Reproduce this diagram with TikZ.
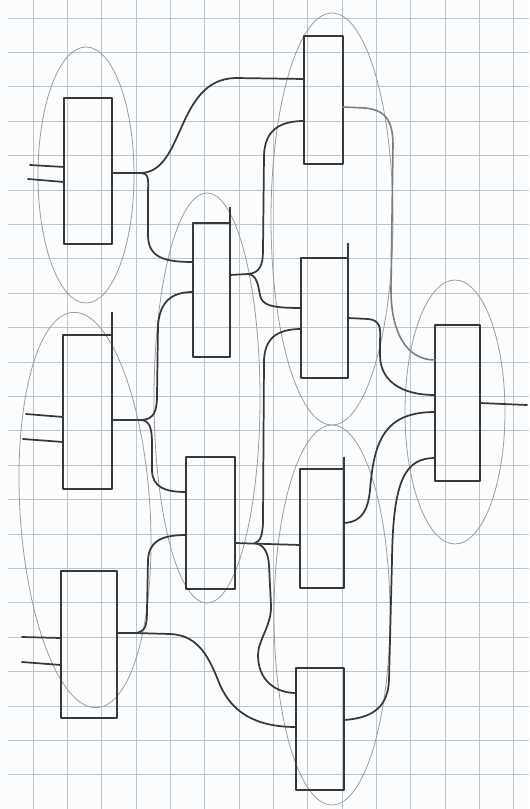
\documentclass[tikz,border=0pt]{standalone}
\usetikzlibrary{calc}
\definecolor{gridc}{HTML}{BCC5CE}
\definecolor{ink}{HTML}{383838}
\definecolor{pencil}{HTML}{9C9C9C}
\definecolor{paper}{HTML}{FBFCFD}
\begin{document}
\begin{tikzpicture}[x=0.75pt,y=-0.75pt,
  box/.style={draw=ink, line width=1.5pt, inner sep=0pt, outer sep=0pt, line join=round},
  stroke/.style={draw=ink, line width=1.5pt},
  wire/.style={draw=ink, line width=1.3pt, line cap=round},
  lightwire/.style={draw=ink!65, line width=1.2pt, line cap=round},
  oval/.style={draw=pencil, line width=0.6pt},
  gridline/.style={draw=gridc, line width=0.7pt}]
\fill[paper] (0,0) rectangle (529,809);
\useasboundingbox (0,0) rectangle (529,809);
% graph paper
\foreach \k in {0,...,14} \draw[gridline] ({33+34.35*\k},0) -- ({33+34.35*\k},809);
\foreach \j in {0,...,23} \draw[gridline] (8,{18+34.4*\j}) -- (529,{18+34.4*\j});
% pencil ovals
\draw[oval] (86,175) ellipse [x radius=48, y radius=128];
\draw[oval, rotate around={3.5:(85,510)}] (85,510) ellipse [x radius=65, y radius=198];
\draw[oval] (207,398) ellipse [x radius=53, y radius=205];
\draw[oval] (332,219) ellipse [x radius=61, y radius=206];
\draw[oval] (332,615) ellipse [x radius=58, y radius=190];
\draw[oval] (455,412) ellipse [x radius=50, y radius=132];
% boxes
\node[box, minimum width=36pt, minimum height=109.5pt] (A) at (88,171) {};
\node[box, minimum width=36.75pt, minimum height=115.5pt] (B) at (87.5,412) {};
\node[box, minimum width=42pt, minimum height=110.25pt] (G) at (89,644.5) {};
\node[box, minimum width=27.75pt, minimum height=100.5pt] (C) at (211.5,290) {};
\node[box, minimum width=36.75pt, minimum height=99pt] (E) at (210.5,523) {};
\node[box, minimum width=29.25pt, minimum height=96pt] (D) at (323.5,100) {};
\node[box, minimum width=35.25pt, minimum height=90pt] (F) at (324.5,318) {};
\node[box, minimum width=33pt, minimum height=89.25pt] (I) at (322,528.5) {};
\node[box, minimum width=36pt, minimum height=91.5pt] (J) at (320,729) {};
\node[box, minimum width=33.75pt, minimum height=117pt] (H) at (457.5,403) {};
% overshooting edges of the sketch
\draw[stroke] (B.north east) -- ++(0,-23);
\draw[stroke] (C.north east) -- ++(0,-16);
\draw[stroke] (F.north east) -- ++(0,-15);
\draw[stroke] (I.north east) -- ++(0,-12);
% external inputs and output
\coordinate (a1) at (30,165); \coordinate (a2) at (28,179);
\coordinate (b1) at (26,414); \coordinate (b2) at (23,439);
\coordinate (g1) at (22,637); \coordinate (g2) at (22,662);
\coordinate (hout) at (527,405);
\draw[wire] (a1) -- (A.west |- 0,167);
\draw[wire] (a2) -- (A.west |- 0,182);
\draw[wire] (b1) -- (B.west |- 0,417);
\draw[wire] (b2) -- (B.west |- 0,442);
\draw[wire] (g1) -- (G.west |- 0,638);
\draw[wire] (g2) -- (G.west |- 0,665);
\draw[wire] (H.east |- 0,403) -- (hout);
% A output splits
\coordinate (jA) at (140,173);
\draw[wire] (A.east |- 0,173) -- (jA) .. controls (185,173) and (175,80) .. (235,78) -- (D.west |- 0,79);
\draw[wire] (jA) .. controls (150,173) and (148,180) .. (148,195) -- (148,235) .. controls (148,258) and (165,262) .. (C.west |- 0,262);
% B output splits
\coordinate (jB) at (140,420);
\draw[wire] (B.east |- 0,420) -- (jB) .. controls (155,420) and (157,410) .. (157,395) -- (158,325) .. controls (160,303) and (170,292) .. (C.west |- 0,292);
\draw[wire] (jB) .. controls (150,420) and (152,428) .. (152,445) -- (152,470) .. controls (152,487) and (165,492) .. (E.west |- 0,492);
% C output splits
\coordinate (jC) at (248,274);
\draw[wire] (C.east |- 0,275) -- (jC) .. controls (260,273) and (263,265) .. (263,250) -- (264,155) .. controls (265,130) and (280,121) .. (D.west |- 0,121);
\draw[wire] (jC) .. controls (257,275) and (258,285) .. (260,295) .. controls (262,305) and (270,308) .. (F.west |- 0,308);
% G output splits
\coordinate (jG) at (135,633);
\draw[wire] (G.east |- 0,633) -- (jG) .. controls (146,632) and (147,625) .. (147,610) -- (148,560) .. controls (149,542) and (160,535) .. (E.west |- 0,535);
\draw[wire] (jG) -- (170,634) .. controls (200,635) and (210,660) .. (220,685) .. controls (232,712) and (255,727) .. (J.west |- 0,727);
% E output splits
\coordinate (jE) at (255,543);
\draw[wire] (E.east |- 0,543) -- (I.west |- 0,545);
\draw[wire] (jE) .. controls (264,545) and (268,552) .. (269,565) -- (271,605) .. controls (272,625) and (258,640) .. (258,655) .. controls (258,680) and (275,693) .. (J.west |- 0,693);
\draw[wire] (jE) .. controls (260,542) and (263,535) .. (263,520) -- (264,360) .. controls (265,340) and (275,329) .. (F.west |- 0,329);
% into H
\draw[lightwire] (D.east |- 0,107) -- (365,108) .. controls (385,110) and (393,120) .. (393,145) -- (391,290) .. controls (391,330) and (405,360) .. (H.west |- 0,360);
\draw[wire] (F.east |- 0,318) -- (368,319) .. controls (380,320) and (381,328) .. (380,340) -- (380,355) .. controls (380,380) and (400,395) .. (H.west |- 0,395);
\draw[wire] (I.east |- 0,523) .. controls (362,522) and (368,510) .. (370,490) .. controls (374,440) and (385,412) .. (H.west |- 0,412);
\draw[wire] (J.east |- 0,720) .. controls (375,718) and (388,705) .. (389,680) -- (392,560) .. controls (393,480) and (405,458) .. (H.west |- 0,458);
\end{tikzpicture}
\end{document}
